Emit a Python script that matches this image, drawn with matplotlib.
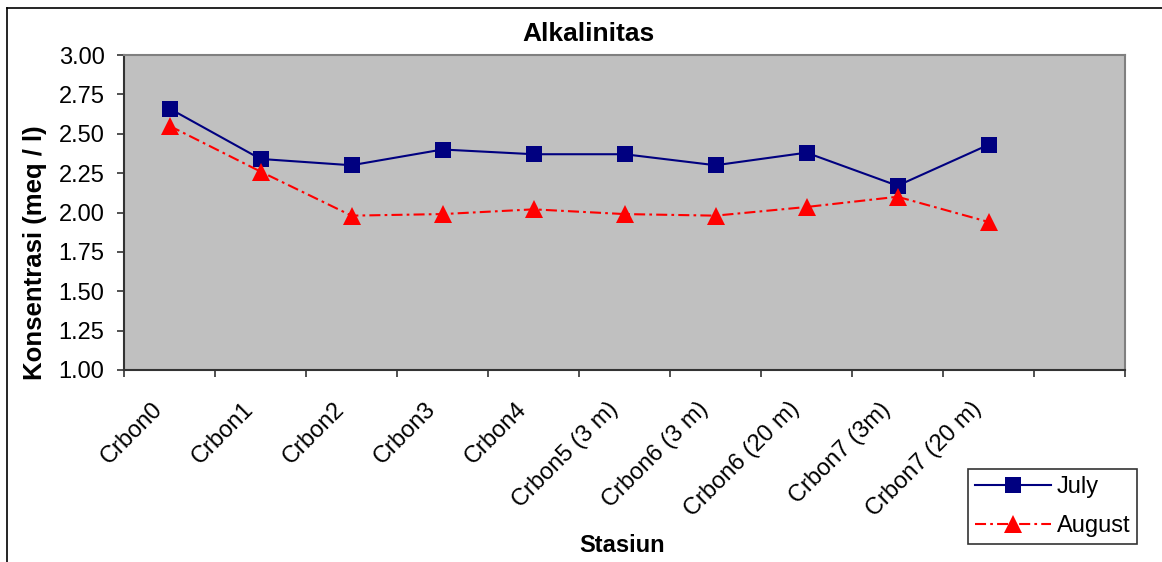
import numpy as np
import matplotlib
matplotlib.use("Agg")
import matplotlib.pyplot as plt
from matplotlib.transforms import ScaledTranslation
from matplotlib.lines import Line2D

plt.rcParams['font.family'] = ['Liberation Sans', 'DejaVu Sans']

stations = ["Crbon0", "Crbon1", "Crbon2", "Crbon3", "Crbon4",
            "Crbon5 (3 m)", "Crbon6 (3 m)", "Crbon6 (20 m)",
            "Crbon7 (3m)", "Crbon7 (20 m)"]
july = [2.66, 2.34, 2.30, 2.40, 2.37, 2.37, 2.30, 2.38, 2.17, 2.43]
august = [2.55, 2.26, 1.98, 1.99, 2.02, 1.99, 1.98, 2.035, 2.10, 1.94]
yticks = [1.00, 1.25, 1.50, 1.75, 2.00, 2.25, 2.50, 2.75, 3.00]
n_slots = 11  # the axis has one empty category at the end

W, H = 1162, 562
fig = plt.figure(figsize=(W / 100, H / 100), dpi=100)
ax = fig.add_axes([124 / W, 1 - 370 / H, (1125 - 124) / W, (370 - 55) / H])
ax.set_facecolor("#C0C0C0")

x = np.arange(len(stations))
ax.plot(x, july, color="#000080", lw=1.5, marker="s", markersize=11,
        markeredgewidth=0, label="July")
ax.plot(x, august, color="#FF0000", lw=1.5, linestyle=(0, (5.3, 2, 1.3, 2)),
        marker="^", markersize=12.5, markeredgewidth=0, label="August")

ax.set_xlim(-0.5, n_slots - 0.5)
ax.set_ylim(1.0, 3.0)
ax.set_yticks(yticks)
ax.set_yticklabels([f"{v:.2f}" for v in yticks])
ax.set_xticks(np.arange(-0.5, n_slots, 1))
ax.set_xticklabels([])
ax.tick_params(axis="both", direction="out", length=5, width=1.2, color="#333333",
               labelsize=17)
ax.tick_params(axis="y", pad=9)

for side in ("top", "right"):
    ax.spines[side].set_color("#808080")
    ax.spines[side].set_linewidth(1.5)
for side in ("left", "bottom"):
    ax.spines[side].set_color("#333333")
    ax.spines[side].set_linewidth(1.5)

offset = ScaledTranslation(-0.18, -0.28, fig.dpi_scale_trans)
for i, name in enumerate(stations):
    ax.text(i, 0, name, transform=ax.get_xaxis_transform() + offset,
            rotation=45, rotation_mode="anchor", ha="right", va="top",
            fontsize=17)

fig.text(588 / W, 1 - 34 / H, "Alkalinitas", ha="center", va="center",
         fontsize=19, fontweight="bold")
fig.text(35 / W, 1 - 253 / H, "Konsentrasi (meq / l)", ha="center", va="center",
         rotation=90, fontsize=18.5, fontweight="bold")
fig.text(622 / W, 1 - 546 / H, "Stasiun", ha="center", va="center",
         fontsize=17, fontweight="bold")

leg = fig.legend(loc="lower left", bbox_to_anchor=(968 / W, 1 - 544 / H),
                 fontsize=17, frameon=True, fancybox=False, handlelength=3.2,
                 borderpad=0.3, labelspacing=0.72, handletextpad=0.25,
                 borderaxespad=0)
leg.get_frame().set_edgecolor("black")
leg.get_frame().set_linewidth(1.2)

# outer chart border (cut off on right and bottom)
fig.add_artist(Line2D([7 / W, 7 / W], [0, 1 - 8 / H], color="black", lw=1.2,
                      transform=fig.transFigure))
fig.add_artist(Line2D([7 / W, 1], [1 - 8 / H, 1 - 8 / H], color="black", lw=1.2,
                      transform=fig.transFigure))

fig.savefig("out.png", dpi=100)
